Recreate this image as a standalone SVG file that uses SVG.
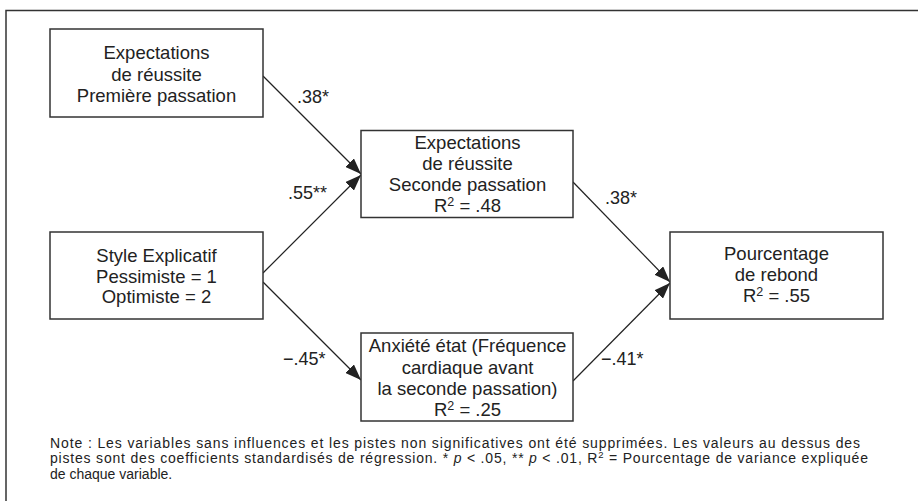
<svg xmlns="http://www.w3.org/2000/svg" width="918" height="501" viewBox="0 0 918 501">
<defs>
<style>
.t{font-family:"Liberation Sans",Arial,sans-serif;font-size:18.5px;fill:#222;text-anchor:middle}
.lbl{font-family:"Liberation Sans",Arial,sans-serif;font-size:18px;fill:#222}
.note{font-family:"Liberation Sans",Arial,sans-serif;font-size:14px;fill:#222}
.box{fill:#fff;stroke:#333;stroke-width:1.5}
.edge{stroke:#222;stroke-width:1.2;fill:none;marker-end:url(#ah)}
</style>
<marker id="ah" markerUnits="userSpaceOnUse" markerWidth="17" markerHeight="12" refX="16" refY="6" orient="auto">
<path d="M0,0 L16,6 L0,12 z" fill="#222"/>
</marker>
</defs>
<rect width="918" height="501" fill="#fff"/>
<path d="M6,501 V10.5 H918" fill="none" stroke="#333" stroke-width="1.5"/>

<g id="connectors">
<line class="edge" x1="263" y1="76" x2="361" y2="174"/>
<line class="edge" x1="263" y1="273" x2="361" y2="175"/>
<line class="edge" x1="263" y1="282" x2="361" y2="380"/>
<line class="edge" x1="573" y1="182" x2="670" y2="282"/>
<line class="edge" x1="573" y1="381" x2="670" y2="283"/>
<text class="lbl" x="297" y="103">.38*</text>
<text class="lbl" x="288" y="199">.55**</text>
<text class="lbl" x="283" y="365">−.45*</text>
<text class="lbl" x="605" y="204">.38*</text>
<text class="lbl" x="601" y="365">−.41*</text>
</g>

<g id="n1">
<rect class="box" x="50" y="29" width="213" height="88"/>
<text class="t" x="156.5" y="59">Expectations</text>
<text class="t" x="156.5" y="81">de réussite</text>
<text class="t" x="156.5" y="102">Première passation</text>
</g>

<g id="n2">
<rect class="box" x="361" y="130.5" width="212" height="87"/>
<text class="t" x="467.5" y="149">Expectations</text>
<text class="t" x="467.5" y="170">de réussite</text>
<text class="t" x="467.5" y="191">Seconde passation</text>
<text class="t" x="467.5" y="212">R<tspan font-size="12.5" dy="-6">2</tspan><tspan dy="6"> = .48</tspan></text>
</g>

<g id="n3">
<rect class="box" x="50" y="232" width="213" height="87"/>
<text class="t" x="156.5" y="262">Style Explicatif</text>
<text class="t" x="156.5" y="283">Pessimiste = 1</text>
<text class="t" x="156.5" y="303">Optimiste = 2</text>
</g>

<g id="n4">
<rect class="box" x="361" y="333" width="212" height="88"/>
<text class="t" x="467.5" y="352">Anxiété état (Fréquence</text>
<text class="t" x="467.5" y="374">cardiaque avant</text>
<text class="t" x="467.5" y="395">la seconde passation)</text>
<text class="t" x="467.5" y="416">R<tspan font-size="12.5" dy="-6">2</tspan><tspan dy="6"> = .25</tspan></text>
</g>

<g id="n5">
<rect class="box" x="670" y="232" width="213" height="87"/>
<text class="t" x="776.5" y="260">Pourcentage</text>
<text class="t" x="776.5" y="281">de rebond</text>
<text class="t" x="776.5" y="302">R<tspan font-size="12.5" dy="-6">2</tspan><tspan dy="6"> = .55</tspan></text>
</g>

<g id="note">
<text class="note" x="50" y="447.5" textLength="810" lengthAdjust="spacing">Note : Les variables sans influences et les pistes non significatives ont été supprimées. Les valeurs au dessus des</text>
<text class="note" x="50" y="463" textLength="818" lengthAdjust="spacing">pistes sont des coefficients standardisés de régression. * <tspan font-style="italic">p</tspan> &lt; .05, ** <tspan font-style="italic">p</tspan> &lt; .01, R<tspan font-size="9.5" dy="-5">2</tspan><tspan dy="5"> = Pourcentage de variance expliquée</tspan></text>
<text class="note" x="50" y="478.5">de chaque variable.</text>
</g>
</svg>
